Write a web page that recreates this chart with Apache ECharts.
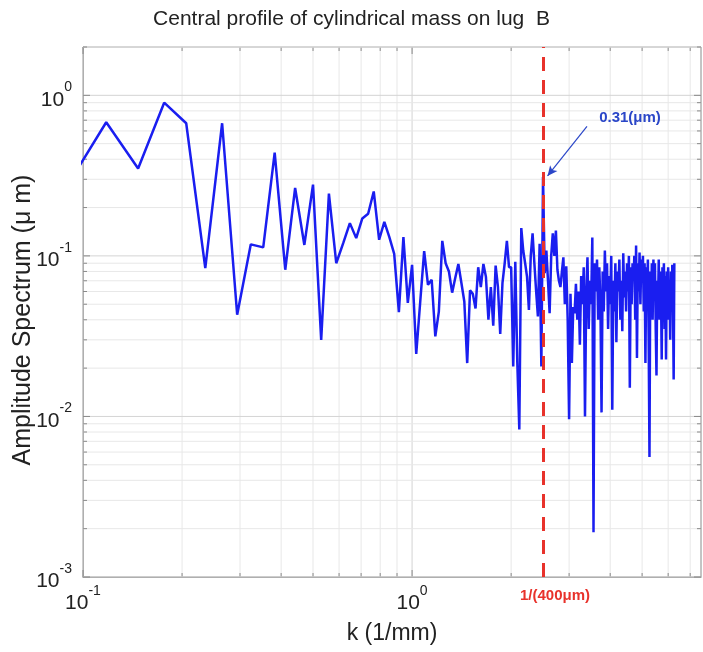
<!DOCTYPE html>
<html><head><meta charset="utf-8">
<script src="https://cdn.jsdelivr.net/npm/echarts@6/dist/echarts.min.js"></script>
<style>html,body{margin:0;padding:0;background:#fff}#c{width:703px;height:652px}</style>
</head><body><div id="c"></div>
<script>
// ---------- data ----------
const chartTitle = 'Central profile of cylindrical mass on lug  B';
const xAxisName = 'k (1/mm)';
const yAxisName = 'Amplitude Spectrum (\u03bc m)';
// spectrum bins: k = bin / recordLength (record length 34 mm), first bin shown = 3
const recordLengthMm = 34;
const firstBin = 3;
const amplitude = [
  0.26, 0.68, 0.35, 0.90, 0.67, 0.084, 0.67, 0.043, 0.118, 0.113,
  0.44, 0.082, 0.265, 0.117, 0.278, 0.030, 0.244, 0.090, 0.12, 0.16,
  0.129, 0.171, 0.183, 0.252, 0.126, 0.163, 0.131, 0.103, 0.0446, 0.131,
  0.051, 0.088, 0.0245, 0.052, 0.107, 0.066, 0.071, 0.0315, 0.045, 0.124,
  0.09, 0.08, 0.059, 0.073, 0.089, 0.068, 0.052, 0.0215, 0.061, 0.058,
  0.047, 0.085, 0.064, 0.089, 0.074, 0.040, 0.064, 0.0367, 0.087, 0.064,
  0.0327, 0.068, 0.09, 0.124, 0.085, 0.085, 0.0205, 0.092, 0.0215, 0.0083,
  0.149, 0.108, 0.09, 0.074, 0.046, 0.10, 0.138, 0.09, 0.06, 0.042,
  0.119, 0.0205, 0.31, 0.078, 0.108, 0.07, 0.044, 0.10, 0.138, 0.10,
  0.144, 0.082, 0.07, 0.064, 0.08, 0.098, 0.05, 0.086, 0.04, 0.0096,
  0.058, 0.0215, 0.048, 0.044, 0.067, 0.04, 0.06, 0.028, 0.075, 0.05,
  0.085, 0.010, 0.06, 0.098, 0.035, 0.07, 0.05, 0.13, 0.0019, 0.09,
  0.06, 0.095, 0.04, 0.085, 0.05, 0.0106, 0.08, 0.045, 0.108, 0.06,
  0.09, 0.035, 0.075, 0.05, 0.10, 0.011, 0.07, 0.045, 0.09, 0.029,
  0.08, 0.06, 0.095, 0.04, 0.07, 0.034, 0.104, 0.055, 0.08, 0.045,
  0.09, 0.06, 0.10, 0.0151, 0.085, 0.05, 0.09, 0.07, 0.10, 0.04,
  0.116, 0.0231, 0.09, 0.06, 0.105, 0.05, 0.095, 0.07, 0.10, 0.045,
  0.09, 0.0215, 0.085, 0.06, 0.095, 0.03, 0.0056, 0.08, 0.05, 0.09,
  0.04, 0.095, 0.06, 0.09, 0.035, 0.018, 0.07, 0.05, 0.095, 0.04,
  0.08, 0.06, 0.0226, 0.085, 0.05, 0.09, 0.035, 0.075, 0.0226, 0.08,
  0.05, 0.085, 0.04, 0.07, 0.03, 0.08, 0.045, 0.088, 0.05, 0.017,
  0.09
];
const cutoffK = 2.5;
const cutoffLabel = '1/(400\u03bcm)';
const peakLabel = '0.31(\u03bcm)';
const arrowFrom = [3.4, 0.64];
const arrowTo = [2.58, 0.315];

// ---------- axes ----------
const xMin = 0.1, xMax = 7.55, yMin = 0.001, yMax = 2;
const xMajorTicks = [0.1, 1];
const xMinorTicks = [0.2,0.3,0.4,0.5,0.6,0.7,0.8,0.9,2,3,4,5,6,7];
const yMajorTicks = [0.001, 0.01, 0.1, 1];
const yMinorTicks = [0.002,0.003,0.004,0.005,0.006,0.007,0.008,0.009,
                     0.02,0.03,0.04,0.05,0.06,0.07,0.08,0.09,
                     0.2,0.3,0.4,0.5,0.6,0.7,0.8,0.9,2];

const spectrum = amplitude.map((a, i) => [(firstBin + i) / recordLengthMm, a]);

const FONT = 'Liberation Sans, Arial, Helvetica, sans-serif';
const BLUE = '#1a1ef0';
const RED = '#e8322b';
const ANNO = '#2a46c8';
const BOX = '#8a8a8a';

function powLabel(v) {
  const e = Math.log10(v);
  if (Math.abs(e - Math.round(e)) > 1e-6) return '';
  return '{b|10}{s|' + Math.round(e) + '}';
}
const richLbl = {
  b: { fontSize: 21, fontFamily: FONT, color: '#222', lineHeight: 30, verticalAlign: 'bottom' },
  s: { fontSize: 14, fontFamily: FONT, color: '#222', lineHeight: 30, verticalAlign: 'top' }
};

const xTickData = xMajorTicks.map(v => [v, yMin, 1]).concat(xMinorTicks.map(v => [v, yMin, 0]));
const yTickData = yMajorTicks.map(v => [xMin, v, 1]).concat(yMinorTicks.map(v => [xMin, v, 0]));

function xTickItem(params, api) {
  const cs = params.coordSys;
  const x = api.coord([api.value(0), yMin])[0];
  const major = api.value(2) === 1;
  const len = major ? 7 : 4;
  const top = cs.y, bot = cs.y + cs.height;
  return { type: 'group', children: [
    { type: 'line', shape: { x1: x, y1: top, x2: x, y2: bot }, style: { stroke: major ? '#d4d4d4' : '#e8e8e8', lineWidth: 1 } },
    { type: 'line', shape: { x1: x, y1: bot, x2: x, y2: bot - len }, style: { stroke: BOX, lineWidth: 1 } },
    { type: 'line', shape: { x1: x, y1: top, x2: x, y2: top + len }, style: { stroke: BOX, lineWidth: 1 } }
  ]};
}
function yTickItem(params, api) {
  const cs = params.coordSys;
  const y = api.coord([xMin, api.value(1)])[1];
  const major = api.value(2) === 1;
  const len = major ? 7 : 4;
  const l = cs.x, r = cs.x + cs.width;
  return { type: 'group', children: [
    { type: 'line', shape: { x1: l, y1: y, x2: r, y2: y }, style: { stroke: major ? '#d4d4d4' : '#e8e8e8', lineWidth: 1 } },
    { type: 'line', shape: { x1: l, y1: y, x2: l + len, y2: y }, style: { stroke: BOX, lineWidth: 1 } },
    { type: 'line', shape: { x1: r, y1: y, x2: r - len, y2: y }, style: { stroke: BOX, lineWidth: 1 } }
  ]};
}

const chart = echarts.init(document.getElementById('c'), null, { renderer: 'canvas' });
chart.setOption({
  backgroundColor: '#fff',
  animation: false,
  title: {
    text: chartTitle, left: 'center', top: 4,
    textStyle: { fontFamily: FONT, fontSize: 21, fontWeight: 'normal', color: '#222' }
  },
  grid: { left: 83, right: 2, top: 47, bottom: 75, show: true, borderColor: BOX, borderWidth: 1,
          backgroundColor: '#fff', containLabel: false, outerBoundsMode: 'none' },
  xAxis: {
    type: 'log', logBase: 10, min: xMin, max: xMax,
    name: xAxisName, nameLocation: 'middle', nameGap: 45, nameMoveOverlap: false,
    nameTextStyle: { fontFamily: FONT, fontSize: 23, color: '#222' },
    axisLine: { show: true, lineStyle: { color: BOX } },
    axisTick: { show: false },
    splitLine: { show: false },
    axisLabel: { formatter: powLabel, rich: richLbl, margin: 7, showMinLabel: true, showMaxLabel: true }
  },
  yAxis: {
    type: 'log', logBase: 10, min: yMin, max: yMax,
    name: yAxisName, nameLocation: 'middle', nameGap: 47, nameMoveOverlap: false,
    nameTextStyle: { fontFamily: FONT, fontSize: 25, color: '#222', padding: [0, 16, 0, 0] },
    axisLine: { show: true, lineStyle: { color: BOX } },
    axisTick: { show: false },
    splitLine: { show: false },
    axisLabel: { formatter: powLabel, rich: richLbl, margin: 11, showMinLabel: true, showMaxLabel: true }
  },
  series: [
    { type: 'custom', renderItem: xTickItem, data: xTickData, encode: { x: 0, y: 1 }, z: 1, silent: true, clip: false },
    { type: 'custom', renderItem: yTickItem, data: yTickData, encode: { x: 0, y: 1 }, z: 1, silent: true, clip: false },
    {
      type: 'line', data: spectrum, showSymbol: false, symbol: 'none', clip: true, z: 3,
      lineStyle: { color: BLUE, width: 2.5 },
      markLine: {
        silent: true, animation: false,
        symbol: ['none', 'none'],
        data: [
          { xAxis: cutoffK,
            lineStyle: { color: RED, width: 3, type: [14, 9] },
            label: { show: true, position: 'start', formatter: cutoffLabel, color: RED, fontWeight: 'bold',
                     fontFamily: FONT, fontSize: 15, distance: 11, padding: [0, 0, 0, 24] } },
          [ { coord: arrowFrom, symbol: 'none' },
            { coord: arrowTo, symbol: 'arrow', symbolSize: [7, 10],
              lineStyle: { color: ANNO, width: 1.2, type: 'solid' }, label: { show: false } } ]
        ]
      },
      markPoint: {
        silent: true,
        data: [{ coord: arrowFrom, symbol: 'circle', symbolSize: 0,
          label: { show: true, position: 'inside', offset: [43, -9], formatter: peakLabel, color: ANNO,
                   fontWeight: 'bold', fontFamily: FONT, fontSize: 15 } }]
      }
    }
  ]
});
</script>
</body></html>
